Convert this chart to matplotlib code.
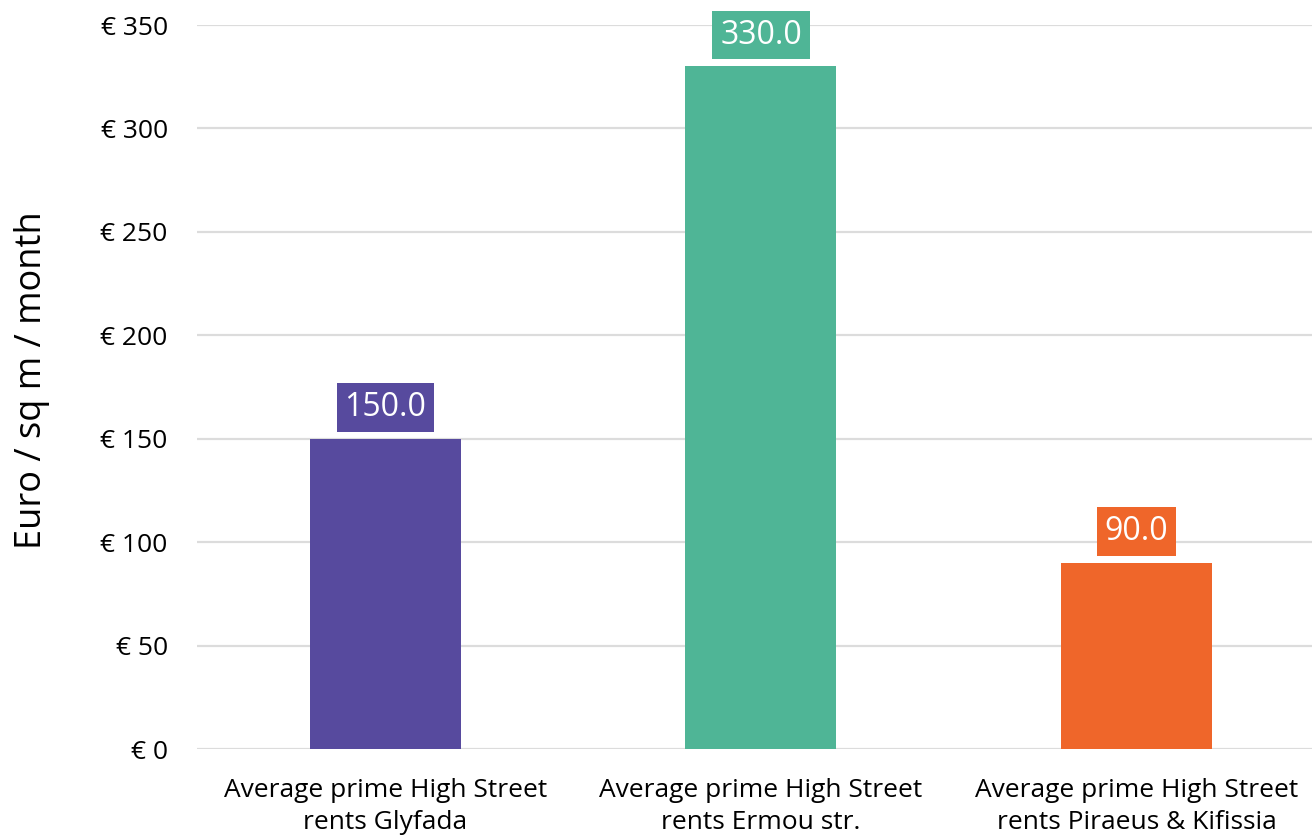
import matplotlib
matplotlib.use("Agg")
import matplotlib.pyplot as plt
import numpy as np

plt.rcParams["font.family"] = ["Open Sans", "DejaVu Sans"]

categories = ["Average prime High Street\nrents Glyfada",
              "Average prime High Street\nrents Ermou str.",
              "Average prime High Street\nrents Piraeus & Kifissia"]
rents = [150.0, 330.0, 90.0]
colors = ["#574a9e", "#4fb596", "#ef662a"]
yticks = [0, 50, 100, 150, 200, 250, 300, 350]

fig = plt.figure(figsize=(13.12, 8.4), dpi=100)
ax = fig.add_axes([0.150, 0.1083, 0.850, 0.8619])

x = np.arange(len(categories))
ax.bar(x, rents, width=0.402, color=colors, zorder=3)

# value labels in boxes of the bar colour
for xi, v, c in zip(x, rents, colors):
    ax.annotate(f"{v:.1f}", (xi, v), xytext=(0, 22.5), textcoords="offset points",
                ha="center", va="center", fontsize=23, color="white", zorder=4,
                bbox=dict(boxstyle="square,pad=0.24", fc=c, ec="none"))

ax.set_xlim(-0.502, 2.467)
ax.set_ylim(0, 350)
ax.set_yticks(yticks)
ax.set_yticklabels([f"€ {t}" for t in yticks], fontsize=19)
ax.set_xticks(x)
ax.set_xticklabels(categories, fontsize=19, linespacing=1.38)
ax.tick_params(axis="y", length=0, pad=21)
ax.tick_params(axis="x", length=0, pad=21)
ax.grid(axis="y", color="#dcdcdc", lw=1.6, zorder=0)
for s in ax.spines.values():
    s.set_visible(False)
ax.set_ylabel("Euro / sq m / month", fontsize=26, va="center")
ax.yaxis.set_label_coords(-0.148, 0.51)

fig.savefig("out.png", dpi=100)
